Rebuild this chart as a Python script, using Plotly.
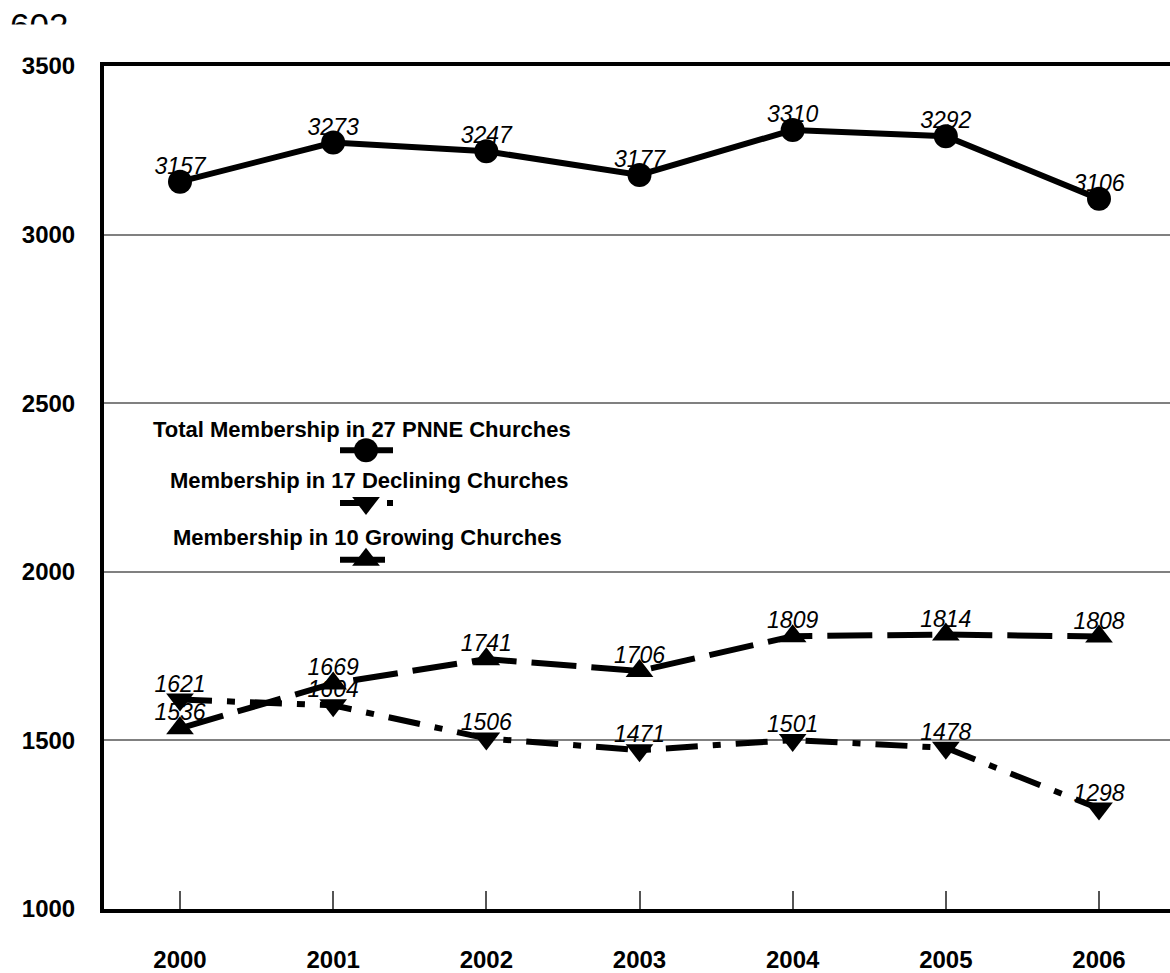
import plotly.graph_objects as go

# ---------------- data ----------------
years = [2000, 2001, 2002, 2003, 2004, 2005, 2006]
total = [3157, 3273, 3247, 3177, 3310, 3292, 3106]
declining = [1621, 1604, 1506, 1471, 1501, 1478, 1298]
growing = [1536, 1669, 1741, 1706, 1809, 1814, 1808]
series_names = [
    "Total Membership in 27 PNNE Churches",
    "Membership in 17 Declining Churches",
    "Membership in 10 Growing Churches",
]
y_ticks = [1000, 1500, 2000, 2500, 3000, 3500]
page_number = "602"

# ---------------- layout constants ----------------
FONT = "Liberation Sans, Arial, sans-serif"
W, H = 1170, 973
ML, MT, MB = 104, 66, 60
PW = W - ML
PH = H - MT - MB

styles = [
    ("circle", "solid", 24),
    ("triangle-down", "32px,15px,8px,15px", 24),
    ("triangle-up", "45px,15px", 24),
]
# legend block (plot-pixel coordinates, origin at top-left of plot area)
legend_text_pos = [(258, 365), (265, 416), (263, 474)]
legend_sym_y = [386, 439, 496]
legend_line_x = (236, 289)
legend_marker_x = 262

fig = go.Figure()
for vals, (sym, dash, msize), name in zip([total, declining, growing], styles, series_names):
    fig.add_trace(go.Scatter(
        x=years, y=vals, mode="text+markers", text=[str(v) for v in vals],
        textposition="top center",
        marker=dict(size=2, opacity=0, color="white"),
        textfont=dict(family=FONT, size=23, style="italic", color="black"),
        showlegend=False, hoverinfo="skip"))
    fig.add_trace(go.Scatter(
        x=years, y=vals, mode="lines+markers", name=name,
        line=dict(color="black", width=6, dash=dash),
        marker=dict(symbol=sym, size=msize, color="black"),
        showlegend=False))

# custom legend: text above, sample below
annotations = []
for (sym, dash, msize), name, (tx, ty), sy in zip(styles, series_names, legend_text_pos, legend_sym_y):
    fig.add_trace(go.Scatter(
        x=[legend_line_x[0], legend_line_x[1]], y=[sy, sy], mode="lines",
        line=dict(color="black", width=6, dash=dash),
        xaxis="x2", yaxis="y2", showlegend=False, hoverinfo="skip"))
    fig.add_trace(go.Scatter(
        x=[legend_marker_x], y=[sy], mode="markers",
        marker=dict(symbol=sym, size=msize, color="black"),
        xaxis="x2", yaxis="y2", showlegend=False, hoverinfo="skip"))
    annotations.append(dict(
        x=tx, y=ty, xref="x2", yref="y2", text=name, showarrow=False,
        xanchor="center", yanchor="middle",
        font=dict(family=FONT, size=22, color="black", weight="bold")))

# page number, partly hidden
annotations.append(dict(
    x=0, y=1, xref="paper", yref="paper", xanchor="left", yanchor="top",
    xshift=8 - ML, yshift=MT - 4, text=page_number, showarrow=False,
    font=dict(family=FONT, size=35, color="black")))
annotations.append(dict(
    x=0, y=1, xref="paper", yref="paper", xanchor="left", yanchor="top",
    xshift=-ML, yshift=MT - 24, text=" ", showarrow=False, width=100, height=32,
    bgcolor="white", borderpad=0, font=dict(size=10)))

step = (1099 - 180) / 6.0
x0 = years[0] - (180 - ML) / step
x1 = years[0] + (W - 180) / step

fig.update_layout(
    width=W, height=H,
    margin=dict(l=ML, r=0, t=MT, b=MB, pad=0),
    paper_bgcolor="white", plot_bgcolor="white",
    showlegend=False,
    annotations=annotations,
    xaxis=dict(
        range=[x0, x1], tickmode="array", tickvals=years,
        ticktext=[str(y) for y in years],
        ticks="inside", ticklen=18, tickwidth=1.5, tickcolor="#555555",
        showline=True, linewidth=4, linecolor="black", mirror=True,
        showgrid=False, zeroline=False, ticklabelstandoff=26,
        tickfont=dict(family=FONT, size=24, color="black", weight="bold")),
    yaxis=dict(
        range=[y_ticks[0], y_ticks[-1]], tickmode="array", tickvals=y_ticks,
        ticks="", showline=True, linewidth=4, linecolor="black",
        showgrid=True, gridcolor="#808080", gridwidth=2, zeroline=False,
        ticklabelstandoff=20,
        tickfont=dict(family=FONT, size=24, color="black", weight="bold")),
    xaxis2=dict(range=[0, PW], overlaying="x", anchor="y2", visible=False, fixedrange=True),
    yaxis2=dict(range=[PH, 0], overlaying="y", anchor="x2", visible=False, fixedrange=True),
)

fig.write_html("out.html", config={"displayModeBar": False},
               post_script="document.body.style.margin='0px';")
